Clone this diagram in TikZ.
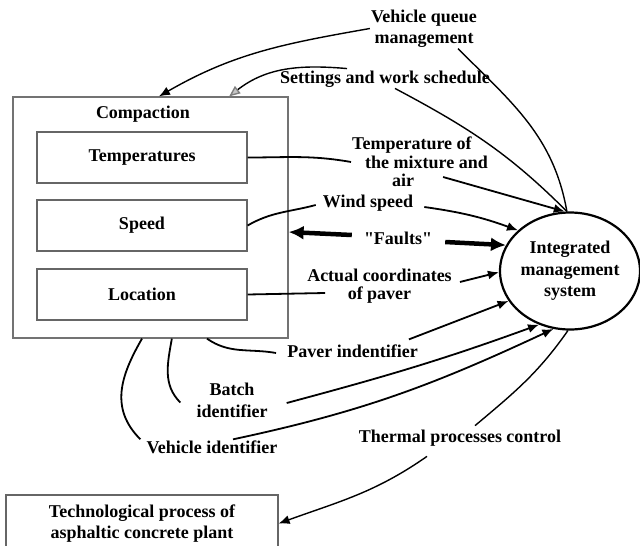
\documentclass[tikz,border=0pt]{standalone}
\usepackage{fontspec}
\setmainfont{Liberation Serif}[Ligatures=TeXOff]
\usetikzlibrary{arrows.meta,shapes.geometric,calc}

\begin{document}
\begin{tikzpicture}[x=1pt, y=1pt,
    every node/.style={font=\bfseries\fontsize{18}{21.5}\selectfont},
    box/.style={draw=black!60, line width=1.2pt, minimum width=210pt, minimum height=51pt},
    lbl/.style={align=center, inner sep=1pt},
    conn/.style={line width=1.8pt},
    thinconn/.style={line width=1.4pt},
    tip/.style={-{Latex[length=11pt,width=9pt]}},
    faults/.style={line width=4.5pt, -{Latex[length=15pt,width=14pt]}}]
    \useasboundingbox (0,0) rectangle (640,-546);

    \node[draw=black!55, line width=1.2pt, minimum width=275pt, minimum height=241pt] (comp) at (150.5,-217.5) {};
    \node (comptitle) at (143,-114) {Compaction};
    \foreach \nm/\yy/\txt in {tempbox/157.5/Temperatures, speedbox/225.5/Speed, locbox/294.5/Location}
    {\node[box] (\nm) at (142,-\yy) {\txt};}

    \node[ellipse, draw, line width=2.2pt, minimum width=134pt, minimum height=117pt, align=center, inner sep=0pt] (ims) at (570,-271)
        {Integrated\\management\\system};
    \node[draw=black!60, line width=1.2pt, minimum width=272pt, minimum height=57pt, align=center] (plantbox) at (142,-523.5)
        {Technological process of\\asphaltic concrete plant};

    \node[lbl] (lblqueue) at (424,-28.5) {Vehicle queue\\management};
    \node[lbl] (lblsettings) at (385,-79) {Settings and work schedule};
    \node[lbl, align=left, anchor=west, font=\bfseries\fontsize{18}{18.5}\selectfont] (lbltemp) at (351,-162)
        {Temperature of\\\hspace*{13pt}the mixture and\\\hspace*{40pt}air};
    \node[lbl] (lblwind) at (368,-203) {Wind speed};
    \node[lbl] (lblfaults) at (398,-238) {"Faults"};
    \node[lbl, font=\bfseries\fontsize{18}{18}\selectfont] (lblactual) at (379.5,-286) {Actual coordinates\\of paver};
    \node[lbl] (lblpaver) at (352.5,-351) {Paver indentifier};
    \node[lbl] (lblbatch) at (232,-400.5) {Batch\\identifier};
    \node[lbl] (lblvehicle) at (212,-447) {Vehicle identifier};
    \node[lbl] (lblthermal) at (460,-438) {Thermal processes control};

    \draw[thinconn] (ims.93) to[out=100,in=-45] ($(lblqueue.south)+(34,0)$);
    \draw[thinconn, tip] (lblqueue.west) to[out=190,in=30] (comp.86.4);
    \draw[thinconn] (ims.93) to[out=135,in=-28] ($(lblsettings.south)+(10,0)$);
    \draw[thinconn, -{Triangle[length=11pt,width=9pt,color=gray,fill=gray!45]}] ($(lblsettings.north)+(-38,1)$) to[out=175,in=38] (comp.57.6);

    \draw[conn] (tempbox.east) to[out=0,in=170] (lbltemp.west);
    \draw[conn, tip] ($(lbltemp.east)+(-46,-15)$) -- (ims.95);
    \draw[conn] (speedbox.east) to[out=30,in=195] ($(lblwind.west)+(-6,-2)$);
    \draw[conn, tip] ($(lblwind.east)+(10,-4)$) to[out=-8,in=160] (ims.142);
    \draw[faults] ($(lblfaults.west)+(-11,3)$) -- (comp.354);
    \draw[faults] ($(lblfaults.east)+(12,-4)$) -- (ims.158);
    \draw[conn] (locbox.east) -- ($(lblactual.west)+(19,-7)$);
    \draw[conn, tip] ($(lblactual.east)+(7,4)$) -- (ims.181);

    \draw[conn] (comp.295.1) to[out=-35,in=170] ($(lblpaver.west)+(-10,-2)$);
    \draw[conn, tip] ($(lblpaver.north east)+(-10,4)$) -- (ims.206.6);
    \draw[conn] (comp.280.1) to[out=-100,in=135] ($(lblbatch.west)+(-15,-2)$);
    \draw[conn, tip] ($(lblbatch.east)+(18,-2.5)$) to[out=15,in=200] (ims.240);
    \draw[conn] (comp.266) to[out=-120,in=135, looseness=1.1] ($(lblvehicle.north west)+(-5,0)$);
    \draw[conn, tip] ($(lblvehicle.north)+(21,0)$) to[out=12,in=205] (ims.254);

    \draw[thinconn] (ims.268) to[out=-125,in=40] ($(lblthermal.north)+(15,3)$);
    \draw[thinconn, tip] ($(lblthermal.south)+(-33,-9)$) to[out=215,in=20] (plantbox.east);
\end{tikzpicture}
\end{document}
